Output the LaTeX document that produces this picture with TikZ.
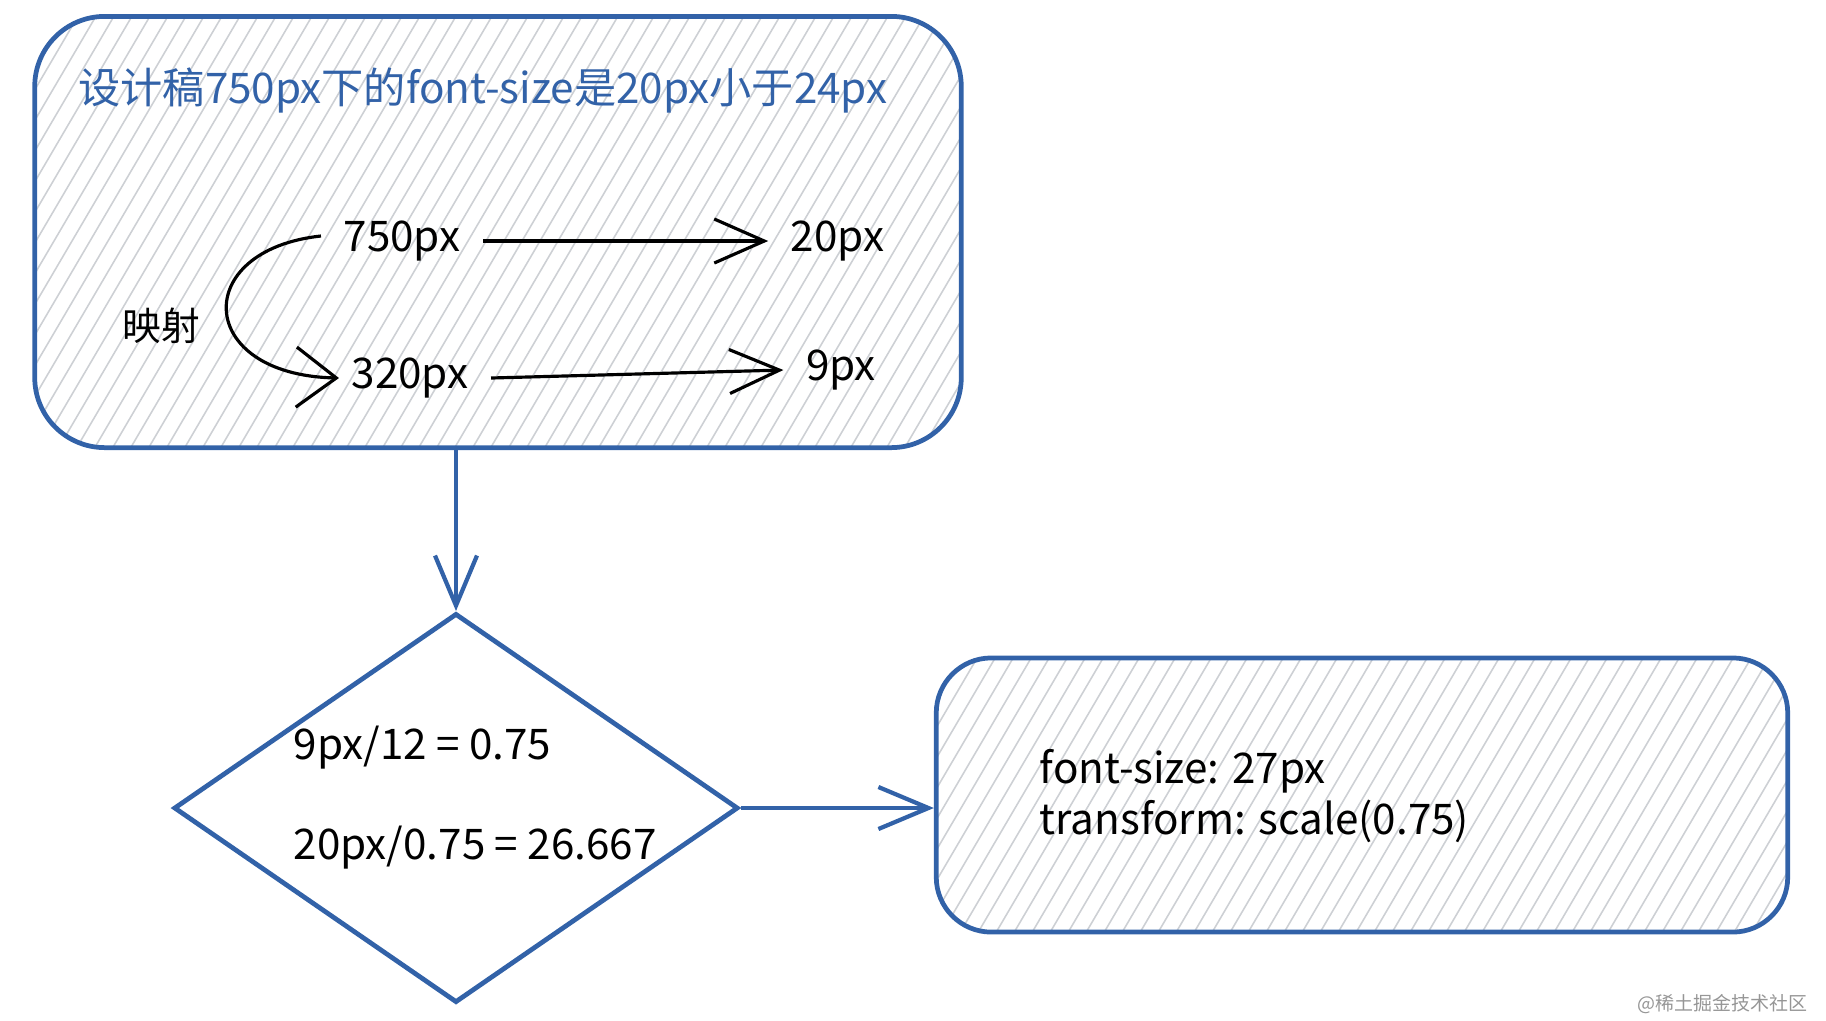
\documentclass[tikz,border=0pt]{standalone}
\usepackage{fontspec}
\setmainfont{Noto Sans CJK SC}
\usetikzlibrary{arrows.meta,positioning,shapes.geometric,calc}
\definecolor{sketchblue}{RGB}{50,98,168}
\definecolor{hatchgray}{RGB}{205,208,212}
\definecolor{markgray}{RGB}{150,150,150}

\begin{document}
\begin{tikzpicture}[
    x=0.01cm, y=-0.01cm,
    hatched/.style={path picture={
        \foreach \i in {-300,-282,...,960}
            \draw[hatchgray, line width=0.45pt] ($(path picture bounding box.south west)+(\i,0)$) -- ++(270,-460);
    }},
    panel/.style={rectangle, rounded corners=0.7cm, draw=sketchblue, line width=1.35pt, hatched},
    decision/.style={diamond, draw=sketchblue, line width=1.35pt, inner sep=0pt},
    lbl/.style={font=\fontsize{12}{14.5}\selectfont, inner xsep=0.22cm},
    arr/.style={-{Straight Barb[length=5mm, width=4.4mm]}, line width=0.9pt},
    darr/.style={-{Straight Barb[length=5mm, width=4.2mm]}, line width=1.2pt, draw=sketchblue}
]
\useasboundingbox (0,0) rectangle (1826,1020);

% boxes
\node[panel, minimum width=9.26cm, minimum height=4.31cm] (design) at (498,232) {};
\node[decision, minimum width=5.64cm, minimum height=3.89cm] (calc) at (456,808) {};
\node[panel, rounded corners=0.55cm, minimum width=8.51cm, minimum height=2.74cm] (result) at (1362,795) {};

% texts
\node[anchor=west, text=sketchblue, font=\fontsize{12}{14}\selectfont] (title) at (66,90) {设计稿750px下的font-size是20px小于24px};
\node[lbl] (n750) at (402,241) {750px};
\node[lbl, right=2.85cm of n750.east, anchor=west] (n20) {20px};
\node[lbl] (n320) at (410,378) {320px};
\node[lbl] (n9) at (841,370) {9px};
\node[font=\fontsize{11}{13}\selectfont] (map) at (161,326) {映射};

\node[lbl, anchor=west, inner xsep=0pt] (ratio) at (293,748) {9px/12 = 0.75};
\node[lbl, anchor=west, inner xsep=0pt] (scaled) at (293,848) {20px/0.75 = 26.667};
\node[lbl, anchor=west, align=left, inner xsep=0pt] (css) at (1039,796) {font-size: 27px\\transform: scale(0.75)};

\node[text=markgray, font=\fontsize{5.4}{6}\selectfont, anchor=east] (mark) at (1820,1004) {@稀土掘金技术社区};

% connectors
\draw[arr] (n750.east) -- (n20.west);
\draw[arr] (n320.east) -- (n9.west);
\draw[arr, -{Straight Barb[length=4mm, width=6mm]}] ([yshift=0.05cm]n750.west) .. controls (190,250) and (195,375) .. ([xshift=0.1cm]n320.west);
\draw[darr] (calc.north |- design.south) -- (calc.north);
\draw[darr] (calc.east) -- (calc.east -| result.west);
\end{tikzpicture}
\end{document}
